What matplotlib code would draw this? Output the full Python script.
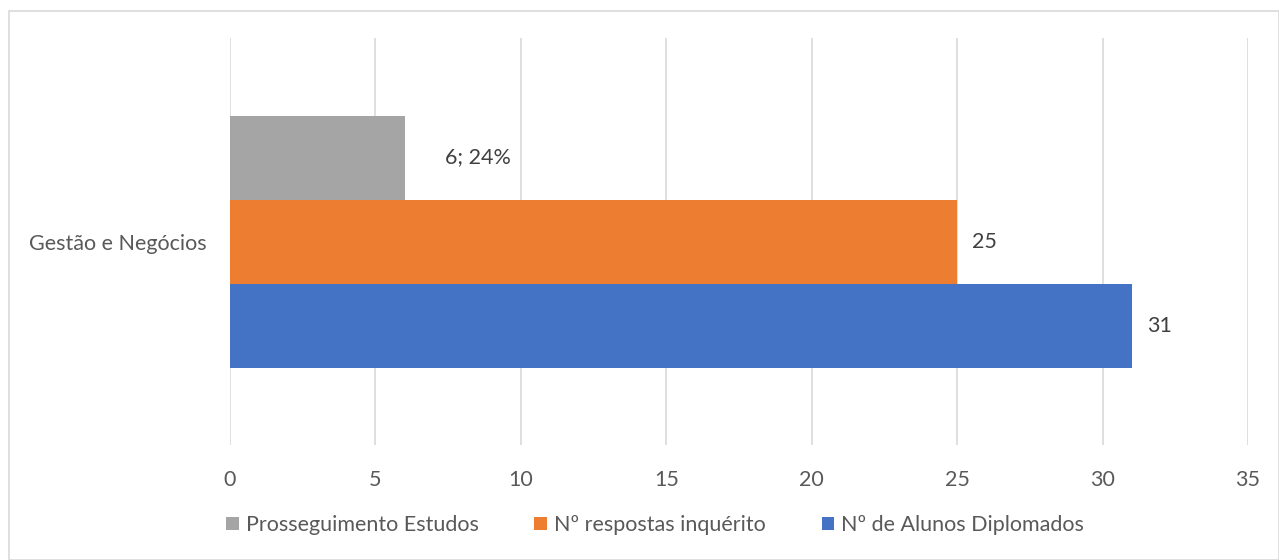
import matplotlib.pyplot as plt
from matplotlib.patches import Rectangle

# Data
category = ['Gestão e Negócios']
series_names = ['Prosseguimento Estudos', 'Nº respostas inquérito', 'Nº de Alunos Diplomados']
series_values = [6, 25, 31]
series_colors = ['#a5a5a5', '#ed7d31', '#4472c4']
x_ticks = [0, 5, 10, 15, 20, 25, 30, 35]

plt.rcParams['font.family'] = ['Lato', 'DejaVu Sans']
text_color = '#595959'
fs = 15.5

fig = plt.figure(figsize=(12.79, 5.6), dpi=100)
ax = fig.add_axes([230 / 1279, 1 - 445 / 560, 1018 / 1279, 407 / 560])

# Light border around the chart area
fig.patches.append(Rectangle((9 / 1279, 0.0), 1 - 9 / 1279, 1 - 11 / 560, transform=fig.transFigure,
                             fill=False, edgecolor='#d9d9d9', linewidth=1.2))

bar_h = 84 / 407
offsets = [-bar_h, 0, bar_h]
for name, value, color, off in zip(series_names, series_values, series_colors, offsets):
    ax.barh(0 + off, value, height=bar_h, color=color, label=name, zorder=3)

# Data labels
pct = series_values[0] / series_values[1]
labels = [f'{series_values[0]}; {pct:.0%}', str(series_values[1]), str(series_values[2])]
label_pad = [29, 11, 11]
for value, off, lab, pad in zip(series_values, offsets, labels, label_pad):
    ax.annotate(lab, (value, 0 + off), xytext=(pad, 0), textcoords='offset points',
                va='center', ha='left', fontsize=fs, color='#404040')

ax.set_xlim(0, 35)
ax.set_ylim(0.5, -0.5)
ax.set_xticks(x_ticks)
ax.set_yticks([0])
ax.set_yticklabels(category)
ax.tick_params(axis='x', length=0, pad=18, labelsize=fs, labelcolor=text_color)
ax.tick_params(axis='y', length=0, pad=17, labelsize=fs, labelcolor=text_color)
ax.grid(axis='x', color='#d9d9d9', linewidth=1.2, zorder=0)
for s in ax.spines.values():
    s.set_visible(False)

ax.legend(loc='center', bbox_to_anchor=(655 / 1279, 1 - 525 / 560), bbox_transform=fig.transFigure,
          ncol=3, frameon=False, fontsize=fs, handlelength=0.6, handleheight=0.6,
          handletextpad=0.3, columnspacing=2.6, labelcolor=text_color)

fig.savefig('out.png', dpi=100)
